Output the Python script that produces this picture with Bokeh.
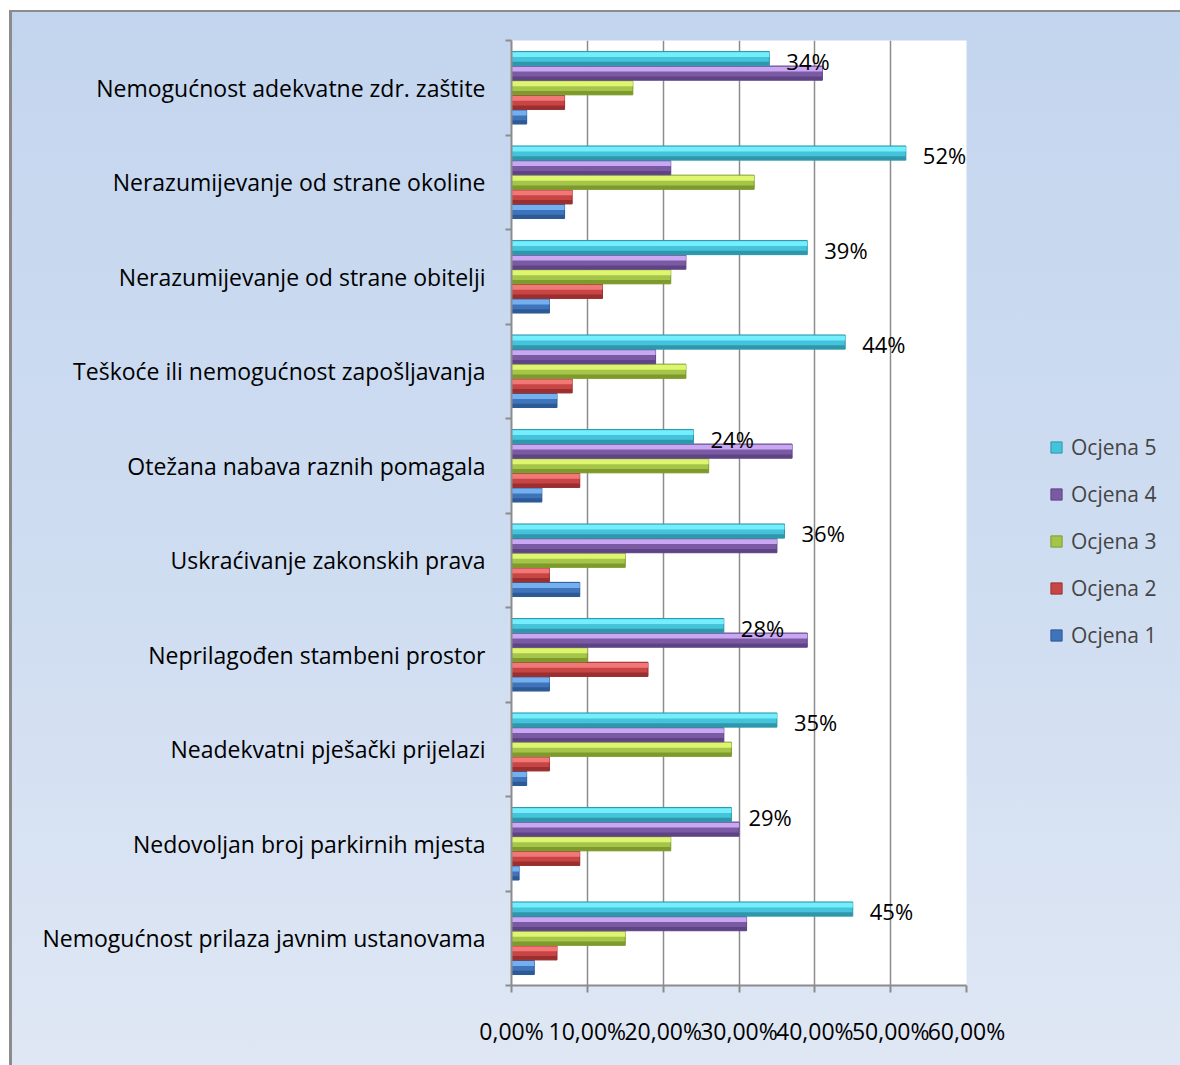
from bokeh.plotting import figure
from bokeh.models import FixedTicker, Legend, LegendItem, ColumnDataSource
from bokeh.core.properties import value
from bokeh.embed import file_html
from bokeh.resources import INLINE

# ---------------- data (top to bottom as in the chart) ----------------
categories = [
    "Nemogućnost adekvatne zdr. zaštite",
    "Nerazumijevanje od strane okoline",
    "Nerazumijevanje od strane obitelji",
    "Teškoće ili nemogućnost zapošljavanja",
    "Otežana nabava raznih pomagala",
    "Uskraćivanje zakonskih prava",
    "Neprilagođen stambeni prostor",
    "Neadekvatni pješački prijelazi",
    "Nedovoljan broj parkirnih mjesta",
    "Nemogućnost prilaza javnim ustanovama",
]
ocjena_5 = [34, 52, 39, 44, 24, 36, 28, 35, 29, 45]
ocjena_4 = [41, 21, 23, 19, 37, 35, 39, 28, 30, 31]
ocjena_3 = [16, 32, 21, 23, 26, 15, 10, 29, 21, 15]
ocjena_2 = [7, 8, 12, 8, 9, 5, 18, 5, 9, 6]
ocjena_1 = [2, 7, 5, 6, 4, 9, 5, 2, 1, 3]
series_names = ["Ocjena 1", "Ocjena 2", "Ocjena 3", "Ocjena 4", "Ocjena 5"]
x_ticks = [0, 10, 20, 30, 40, 50, 60]
x_tick_labels = ["0,00%", "10,00%", "20,00%", "30,00%", "40,00%", "50,00%", "60,00%"]

# ---------------- styling ----------------
FONT = "Open Sans"
main_col = ["#3f74bb", "#c84545", "#a5c44a", "#7a5ba3", "#45c3da"]
hi_col = ["#74b0f0", "#f27878", "#def56f", "#c9a7f2", "#74eefc"]
dk_col = ["#2c5a96", "#9b2f2f", "#7e9a2c", "#5e4485", "#2f97ab"]

n = len(categories)
centers = [2 * (n - 1 - i) + 1 for i in range(n)]
boundaries = [2 * k for k in range(n + 1)]
step = 0.309
h = 0.30

p = figure(
    frame_width=455, frame_height=945,
    min_border_left=511, min_border_right=214, min_border_top=40, min_border_bottom=80,
    x_range=(0, 60), y_range=(0, 2 * n),
    output_backend="svg", toolbar_location=None,
)
p.border_fill_color = None
p.background_fill_color = "white"
p.outline_line_color = None
p.styles = {
    "background": "linear-gradient(to bottom, #c3d5ee 0%, #cfddf1 55%, #dfe7f4 100%)",
    "box-shadow": "inset 9px 10px 0 white, inset 12px 12px 0 #8c8c8c",
}

all_series = [ocjena_1, ocjena_2, ocjena_3, ocjena_4, ocjena_5]
renderers = []
for s, vals in enumerate(all_series):
    ys = [c + (s - 2) * step for c in centers]
    src = ColumnDataSource(dict(y=ys, v=vals,
                                yh=[y + h * 0.28 for y in ys],
                                yd=[y - h * 0.36 for y in ys]))
    r = p.hbar(y="y", right="v", left=0, height=h, source=src,
               fill_color=main_col[s], line_color=dk_col[s], line_width=1)
    p.hbar(y="yh", right="v", left=0, height=h * 0.34, source=src,
           fill_color=hi_col[s], line_color=None)
    p.hbar(y="yd", right="v", left=0, height=h * 0.26, source=src,
           fill_color=dk_col[s], line_color=None)
    renderers.append(r)

# data labels for Ocjena 5
y5 = [c + 2 * step for c in centers]
lab_src = ColumnDataSource(dict(x=ocjena_5, y=y5, t=[f"{v}%" for v in ocjena_5]))
p.text(x="x", y="y", text="t", source=lab_src, x_offset=17, y_offset=2,
       text_baseline="middle", text_align="left", text_font=value(FONT),
       text_font_size="22px", text_color="black")

# axes
p.xaxis.ticker = FixedTicker(ticks=x_ticks)
p.xaxis.major_label_overrides = {t: l for t, l in zip(x_ticks, x_tick_labels)}
p.xaxis.axis_line_color = "#8c8c8c"
p.xaxis.axis_line_width = 2
p.xaxis.major_tick_line_color = "#8c8c8c"
p.xaxis.major_tick_line_width = 2
p.xaxis.major_tick_out = 7
p.xaxis.major_tick_in = 0
p.xaxis.minor_tick_line_color = None
p.xaxis.major_label_standoff = 22
p.xaxis.major_label_text_font = FONT
p.xaxis.major_label_text_font_size = "23px"
p.xaxis.major_label_text_color = "black"

p.yaxis.ticker = FixedTicker(ticks=centers, minor_ticks=boundaries)
p.yaxis.major_label_overrides = {c: cat for c, cat in zip(centers, categories)}
p.yaxis.axis_line_color = "#8c8c8c"
p.yaxis.axis_line_width = 2
p.yaxis.major_tick_line_color = None
p.yaxis.major_tick_out = 0
p.yaxis.major_tick_in = 0
p.yaxis.minor_tick_line_color = "#8c8c8c"
p.yaxis.minor_tick_line_width = 2
p.yaxis.minor_tick_out = 6
p.yaxis.minor_tick_in = 0
p.yaxis.major_label_standoff = 20
p.yaxis.major_label_text_font = FONT
p.yaxis.major_label_text_font_size = "23px"
p.yaxis.major_label_text_color = "black"

p.xgrid.ticker = FixedTicker(ticks=x_ticks)
p.xgrid.grid_line_color = "#8c8c8c"
p.xgrid.grid_line_width = 1.5
p.ygrid.grid_line_color = None

# legend (Ocjena 5 on top)
items = [LegendItem(label=series_names[s], renderers=[renderers[s]]) for s in range(4, -1, -1)]
legend = Legend(items=items, location=(83, 336), orientation="vertical",
                background_fill_alpha=0, border_line_color=None,
                label_text_font=FONT, label_text_font_size="21px",
                glyph_width=14, glyph_height=14, label_height=22,
                spacing=19, padding=0, margin=0, label_standoff=8)
p.add_layout(legend, "right")

open("out.html", "w").write(file_html(p, INLINE))
